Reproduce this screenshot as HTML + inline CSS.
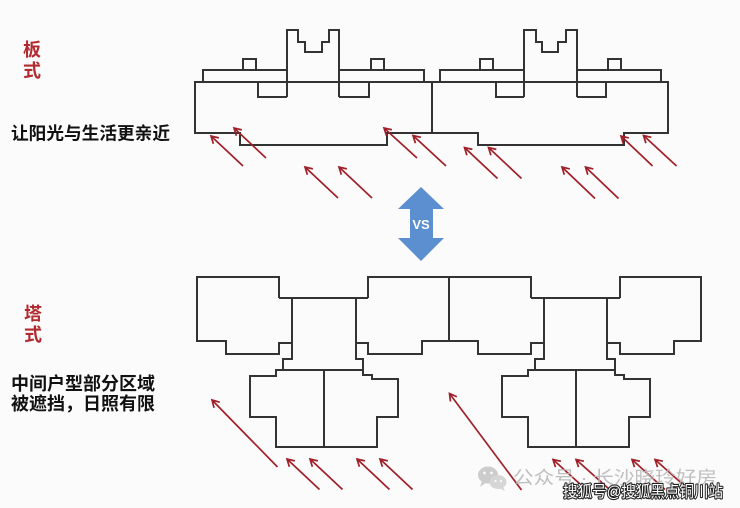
<!DOCTYPE html>
<html><head><meta charset="utf-8"><style>
html,body{margin:0;padding:0;background:#fbfbfb;}
svg{display:block;}
</style></head><body>
<svg width="740" height="508" viewBox="0 0 740 508" xmlns="http://www.w3.org/2000/svg">
<defs>
<marker id="ah" markerWidth="10" markerHeight="10" refX="8.5" refY="5" orient="auto" markerUnits="userSpaceOnUse">
<path d="M1.5,1 L8.5,5 L1.5,9" fill="none" stroke="#a01f28" stroke-width="1.7"/>
</marker>
</defs>
<rect width="740" height="508" fill="#fbfbfb"/>

<!-- Slab buildings -->
<g fill="none" stroke="#333" stroke-width="2" stroke-linejoin="miter">
<path d="M195,82 H668 V133 H624 V145 H478 V133 H387 V145 H240 V133 H195 Z"/>
<path d="M432,82 V133"/>
<!-- unit 1 -->
<path d="M203,82 V70 H287"/>
<path d="M287,97 V30 H298 V42 H305 V52 H322 V42 H329 V30 H339 V97"/>
<path d="M339,70 H424 V82"/>
<path d="M243,70 V59 H256 V70"/>
<path d="M371,70 V59 H384 V70"/>
<path d="M258,82 V97 H287"/>
<path d="M339,97 H369 V82"/>
<!-- unit 2 -->
<path d="M440,82 V70 H524"/>
<path d="M524,97 V30 H536 V42 H542 V52 H558 V42 H566 V30 H577 V97"/>
<path d="M577,70 H661 V82"/>
<path d="M480,70 V59 H493 V70"/>
<path d="M608,70 V59 H621 V70"/>
<path d="M496,82 V97 H524"/>
<path d="M577,97 H606 V82"/>
</g>

<!-- Tower buildings -->
<g fill="none" stroke="#333" stroke-width="2" stroke-linejoin="miter">
<!-- A -->
<path d="M279,298 V277 H197 V341 H226 V354 H279 V343 H292"/>
<path d="M292,298 V359 H283 V370 H363 V359 H356 V298"/>
<path d="M279,298 H368"/>
<path d="M368,298 V277 H449 V341 H422 V354 H368 V343 H356"/>
<path d="M283,370 H276 V376 H250 V417 H276 V447 H377 V417 H398 V379 H372 V375 H363 V370"/>
<path d="M324,370 V447"/>
<!-- B -->
<path d="M531,298 V277 H449 V341 H478 V354 H531 V343 H544"/>
<path d="M544,298 V359 H535 V370 H615 V359 H607 V298"/>
<path d="M531,298 H620"/>
<path d="M620,298 V277 H701 V341 H674 V354 H620 V343 H607"/>
<path d="M535,370 H528 V376 H502 V417 H528 V447 H629 V417 H650 V379 H624 V375 H615 V370"/>
<path d="M576,370 V447"/>
</g>

<!-- Red sun arrows -->
<g stroke="#a01f28" stroke-width="1.7" fill="none" marker-end="url(#ah)">
<line x1="243" y1="166" x2="211" y2="136"/>
<line x1="266" y1="158" x2="234" y2="128"/>
<line x1="338" y1="198" x2="305" y2="167"/>
<line x1="372" y1="198" x2="339" y2="167"/>
<line x1="417" y1="158" x2="384" y2="128"/>
<line x1="446" y1="166" x2="413" y2="135.5"/>
<line x1="497.5" y1="178.5" x2="464.5" y2="147.5"/>
<line x1="521.5" y1="178.5" x2="488.5" y2="147.5"/>
<line x1="595" y1="198.5" x2="562" y2="167"/>
<line x1="618.5" y1="198.5" x2="585.5" y2="167"/>
<line x1="652.5" y1="166" x2="621" y2="136"/>
<line x1="676.5" y1="166" x2="643.5" y2="135.5"/>

<line x1="277.5" y1="467" x2="212" y2="400"/>
<line x1="319.5" y1="489.5" x2="287" y2="459"/>
<line x1="342.5" y1="489.5" x2="310" y2="459"/>
<line x1="389.5" y1="489.5" x2="357" y2="459"/>
<line x1="412.5" y1="489.5" x2="380" y2="459"/>
<line x1="521.5" y1="490" x2="449.5" y2="393.5"/>
<line x1="586" y1="489.5" x2="553" y2="459.5"/>
<line x1="609.5" y1="489.5" x2="576" y2="459.5"/>
<line x1="665" y1="489.5" x2="632" y2="459.5"/>
<line x1="688.5" y1="489.5" x2="655" y2="459.5"/>
</g>

<!-- VS double arrow -->
<polygon points="421,187 444,209 433,209 433,238 444,238 421,261 398,238 410,238 410,209 398,209" fill="#5b8fcf"/>
<text x="421" y="229" text-anchor="middle" font-family="Liberation Sans, sans-serif" font-weight="bold" font-size="13" fill="#ffffff">VS</text>

<!-- Left labels -->
<g font-family="Liberation Sans, 'Noto Sans CJK SC', sans-serif" font-weight="bold">
<text x="23" y="56" font-size="18" fill="#b12a2f">板</text>
<text x="23" y="77" font-size="18" fill="#b12a2f">式</text>
<text x="11" y="139.5" font-size="17.5" fill="#111" textLength="159" lengthAdjust="spacingAndGlyphs">让阳光与生活更亲近</text>
<text x="24" y="320" font-size="18" fill="#b12a2f">塔</text>
<text x="24" y="341" font-size="18" fill="#b12a2f">式</text>
<text x="11" y="390" font-size="18" fill="#111" textLength="144" lengthAdjust="spacingAndGlyphs">中间户型部分区域</text>
<text x="11" y="410" font-size="18" fill="#111" textLength="144" lengthAdjust="spacingAndGlyphs">被遮挡，日照有限</text>
</g>

<!-- Watermarks -->
<g fill="#c4c4c4" opacity="0.85">
<ellipse cx="488" cy="475" rx="10" ry="8.5"/>
<path d="M482,481 L480,487 L487,482 Z"/>
<ellipse cx="498" cy="482" rx="8.5" ry="7" fill="#d0d0d0"/>
<path d="M503,487 L505,491 L499,488 Z" fill="#d0d0d0"/>
</g>
<circle cx="484.5" cy="473" r="1.4" fill="#fbfbfb"/>
<circle cx="491.5" cy="473" r="1.4" fill="#fbfbfb"/>
<circle cx="495.5" cy="481" r="1.1" fill="#fbfbfb"/>
<circle cx="501" cy="481" r="1.1" fill="#fbfbfb"/>
<text x="513" y="484" font-family="Liberation Sans, 'Noto Sans CJK SC', sans-serif" font-size="18" fill="#b8b8b8" opacity="0.9" textLength="204" lengthAdjust="spacingAndGlyphs">公众号 · 长沙晓玲好房</text>
<text x="563" y="497" font-family="Liberation Sans, 'Noto Sans CJK SC', sans-serif" font-size="16" fill="#ffffff" stroke="#222" stroke-width="2.2" paint-order="stroke" stroke-linejoin="round" textLength="160" lengthAdjust="spacingAndGlyphs">搜狐号@搜狐黑点铜川站</text>
</svg>
</body></html>
